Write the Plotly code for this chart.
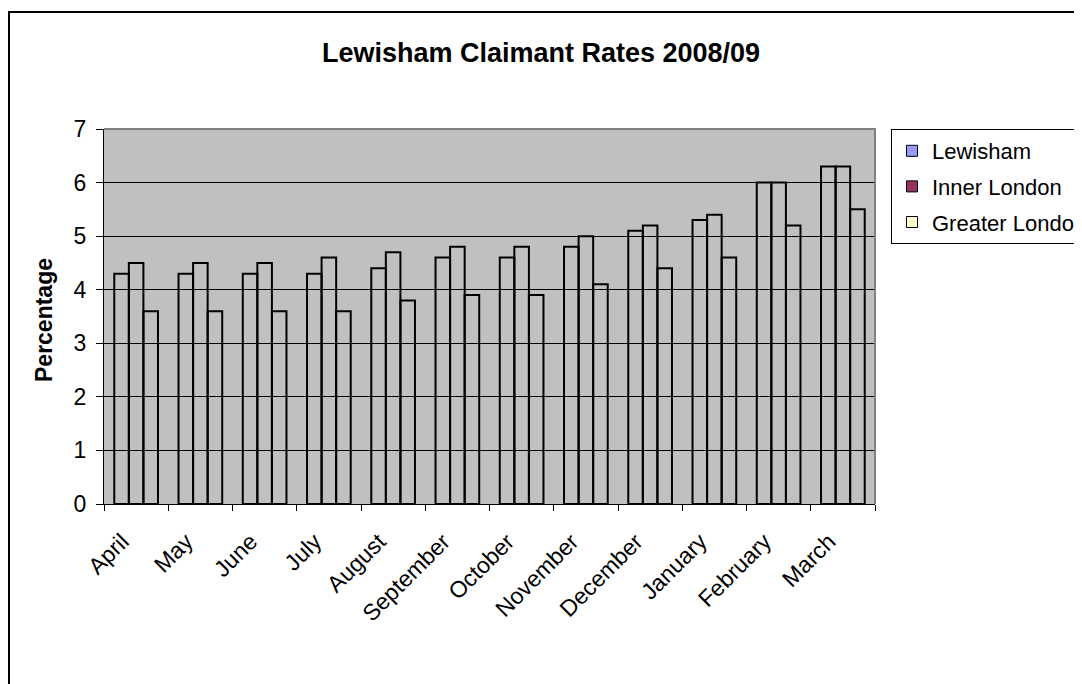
import plotly.graph_objects as go

months = ["April", "May", "June", "July", "August", "September", "October",
          "November", "December", "January", "February", "March"]
lewisham = [4.3, 4.3, 4.3, 4.3, 4.4, 4.6, 4.6, 4.8, 5.1, 5.3, 6.0, 6.3]
inner_london = [4.5, 4.5, 4.5, 4.6, 4.7, 4.8, 4.8, 5.0, 5.2, 5.4, 6.0, 6.3]
greater_london = [3.6, 3.6, 3.6, 3.6, 3.8, 3.9, 3.9, 4.1, 4.4, 4.6, 5.2, 5.5]
series = [("Lewisham", lewisham, "#9999FF"),
          ("Inner London", inner_london, "#993366"),
          ("Greater London", greater_london, "#FFFFCC")]

FONT = "Arial, Liberation Sans, sans-serif"
W, H = 1082, 684          # window size
OFF = 8                   # default page body margin
L, R, T, B = 104, 875, 129, 504   # plot area in window pixels

fig = go.Figure()
for name, vals, col in series:
    fig.add_trace(go.Bar(x=months, y=vals, name=name, showlegend=False,
                         marker=dict(color="rgba(0,0,0,0)",
                                     line=dict(color="black", width=2))))
for i, (name, vals, col) in enumerate(series):
    fig.add_trace(go.Scatter(x=[None], y=[None], mode="markers", name=name,
                             legendgroup=f"g{i}",
                             marker=dict(symbol="square", size=11, color=col,
                                         line=dict(color="black", width=1))))

pw, ph = R - L, B - T
def px_x(x):
    return (x - L) / pw
def px_y(y):
    return (B - y) / ph

FW, FH = W - OFF, H - OFF
fig.update_layout(
    width=FW, height=FH,
    margin=dict(l=L - OFF, r=W - R, t=T - OFF, b=H - B, autoexpand=False),
    paper_bgcolor="white", plot_bgcolor="#C0C0C0",
    barmode="group", bargap=0.32, bargroupgap=0,
    font=dict(family=FONT, color="black", size=23),
    title=dict(text="<b>Lewisham Claimant Rates 2008/09</b>",
               x=(541 - OFF) / FW, xanchor="center", xref="container",
               y=1 - (53 - OFF) / FH, yanchor="middle",
               font=dict(size=27, family=FONT, color="black")),
    xaxis=dict(showline=True, linecolor="black", linewidth=1,
               ticks="outside", ticklen=6, tickcolor="black", tickson="boundaries",
               tickangle=-45, showgrid=False, tickfont=dict(size=23),
               ticklabelstandoff=14, ticklabelshift=-14),
    yaxis=dict(range=[0, 7], dtick=1, showline=True, linecolor="black", linewidth=1,
               ticks="outside", ticklen=7, tickcolor="black",
               showgrid=True, gridcolor="black", gridwidth=1,
               zeroline=False, tickfont=dict(size=23), ticklabelstandoff=5),
    legend=dict(x=px_x(891), y=px_y(129), xanchor="left", yanchor="top",
                bgcolor="white", bordercolor="black", borderwidth=1,
                font=dict(size=22), traceorder="grouped", tracegroupgap=4),
    showlegend=True,
)

fig.add_annotation(text="<b>Percentage</b>", textangle=-90, xref="paper", yref="paper",
                   x=px_x(44), y=px_y(320), xanchor="center", yanchor="middle",
                   showarrow=False,
                   font=dict(size=23, family=FONT, color="black"))

# plot area border (top and right, gray)
fig.add_shape(type="path", xref="paper", yref="paper",
              path="M 0 1 L 1 1 L 1 0", line=dict(color="#808080", width=2), layer="above")
# outer chart frame
fig.add_shape(type="rect", xref="paper", yref="paper",
              x0=px_x(9), y0=px_y(H + 50), x1=px_x(W + 50), y1=px_y(12),
              line=dict(color="black", width=2), layer="above")

fig.write_html("out.html")
